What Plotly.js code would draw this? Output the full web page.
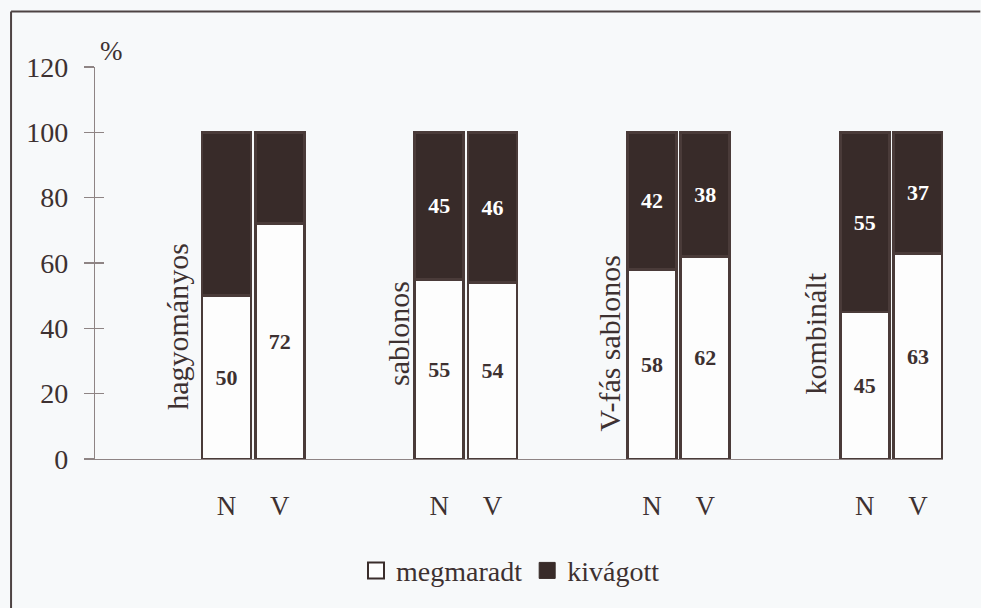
<!DOCTYPE html>
<html>
<head>
<meta charset="utf-8">
<script src="https://cdn.plot.ly/plotly-3.0.1.min.js"></script>
<style>
html,body{margin:0;padding:0;background:#f7f9fa;overflow:hidden;}
#chart{width:981px;height:608px;}
</style>
</head>
<body>
<div id="chart"></div>
<script>
// ---- data ----
var groups = ['hagyományos', 'sablonos', 'V-fás sablonos', 'kombinált'];
var subs = ['N', 'V'];
var megmaradt = [50, 72, 55, 54, 58, 62, 45, 63];
var kivagott = [50, 28, 45, 46, 42, 38, 55, 37];
var megmaradtLabels = ['50', '72', '55', '54', '58', '62', '45', '63'];
var kivagottLabels = ['', '', '45', '46', '42', '38', '55', '37'];
var yTicks = [0, 20, 40, 60, 80, 100, 120];

// ---- positions derived from data order ----
var xs = [], tickText = [];
groups.forEach(function (g, gi) {
  subs.forEach(function (s, si) {
    xs.push(gi * 4 + si);
    tickText.push(s);
  });
});

var ink = '#3d3131';
var dark = '#382b29';
var serif = '"Liberation Serif", "Times New Roman", serif';

var traces = [
  {
    type: 'bar', name: 'megmaradt', x: xs, y: megmaradt,
    text: megmaradtLabels, textposition: 'inside', insidetextanchor: 'middle',
    textfont: {family: serif, size: 22, color: ink, weight: 'bold'},
    marker: {color: '#fdfdfd', line: {color: '#4a3b39', width: 2.8}},
    width: 0.92, showlegend: false, hoverinfo: 'skip'
  },
  {
    type: 'bar', name: 'kivágott', x: xs, y: kivagott,
    text: kivagottLabels, textposition: 'inside', insidetextanchor: 'middle',
    textfont: {family: serif, size: 22, color: '#ffffff', weight: 'bold'},
    marker: {color: dark, line: {color: '#4a3b39', width: 2.8}},
    width: 0.92, showlegend: false, hoverinfo: 'skip'
  },
  // legend entries
  {
    type: 'scatter', mode: 'markers', name: 'megmaradt', x: [null], y: [null],
    marker: {symbol: 'square', size: 16, color: '#fdfdfd', line: {color: '#3a2d2b', width: 2}}
  },
  {
    type: 'scatter', mode: 'markers', name: 'kivágott', x: [null], y: [null],
    marker: {symbol: 'square', size: 16, color: dark, line: {color: dark, width: 1}}
  },
  // overlay axis for inner half of crossing ticks
  {type: 'scatter', x: [null], y: [null], yaxis: 'y2', showlegend: false, hoverinfo: 'skip'}
];

// group label placement (style)
var labelDX = [-0.91, -0.78, -0.80, -0.93];
var labelY = [40.5, 38.5, 35.5, 38.5];
var annotations = groups.map(function (g, gi) {
  return {
    text: g, x: gi * 4 + labelDX[gi], y: labelY[gi], xref: 'x', yref: 'y',
    textangle: -90, showarrow: false,
    font: {family: serif, size: 30, color: ink}
  };
});
annotations.push({
  text: '%', xref: 'paper', yref: 'paper', x: 0.004, y: 1.085,
  showarrow: false, font: {family: serif, size: 27, color: ink}
});

var layout = {
  width: 981, height: 608,
  margin: {l: 95, r: 38, t: 67, b: 146},
  paper_bgcolor: '#f7f9fa', plot_bgcolor: 'rgba(0,0,0,0)',
  barmode: 'stack',
  font: {family: serif, color: ink},
  xaxis: {
    range: [-2.472, 13.47], showgrid: false, zeroline: false,
    showline: true, linecolor: '#8e8484', linewidth: 1.2,
    tickmode: 'array', tickvals: xs, ticktext: tickText,
    ticks: '', ticklabelstandoff: 22,
    tickfont: {family: serif, size: 27, color: ink}
  },
  yaxis: {
    range: [0, 120], showgrid: false, zeroline: false,
    showline: true, linecolor: '#8e8484', linewidth: 1.2,
    tickmode: 'array', tickvals: yTicks,
    ticks: 'outside', ticklen: 10, tickcolor: '#8e8484', tickwidth: 1.2,
    ticklabelstandoff: 10,
    tickfont: {family: serif, size: 28, color: ink}
  },
  yaxis2: {
    overlaying: 'y', side: 'left', range: [0, 120], showgrid: false, zeroline: false,
    tickmode: 'array', tickvals: yTicks, showticklabels: false,
    ticks: 'inside', ticklen: 9, tickcolor: '#8e8484', tickwidth: 1.2
  },
  legend: {
    orientation: 'h', x: 0.49, xanchor: 'center', y: -0.285, yanchor: 'middle',
    font: {family: serif, size: 28, color: ink}, bgcolor: 'rgba(0,0,0,0)',
    itemwidth: 30, tracegroupgap: 0, traceorder: 'normal'
  },
  annotations: annotations,
  shapes: [
    {type: 'line', xref: 'paper', yref: 'paper', x0: -0.099, x1: -0.099, y0: -0.4, y1: 1.1418,
     line: {color: '#4d4343', width: 2}},
    {type: 'line', xref: 'paper', yref: 'paper', x0: -0.099, x1: 1.044, y0: 1.1418, y1: 1.1418,
     line: {color: '#4d4343', width: 2}}
  ]
};

Plotly.newPlot('chart', traces, layout, {displayModeBar: false, staticPlot: true});
</script>
</body>
</html>
